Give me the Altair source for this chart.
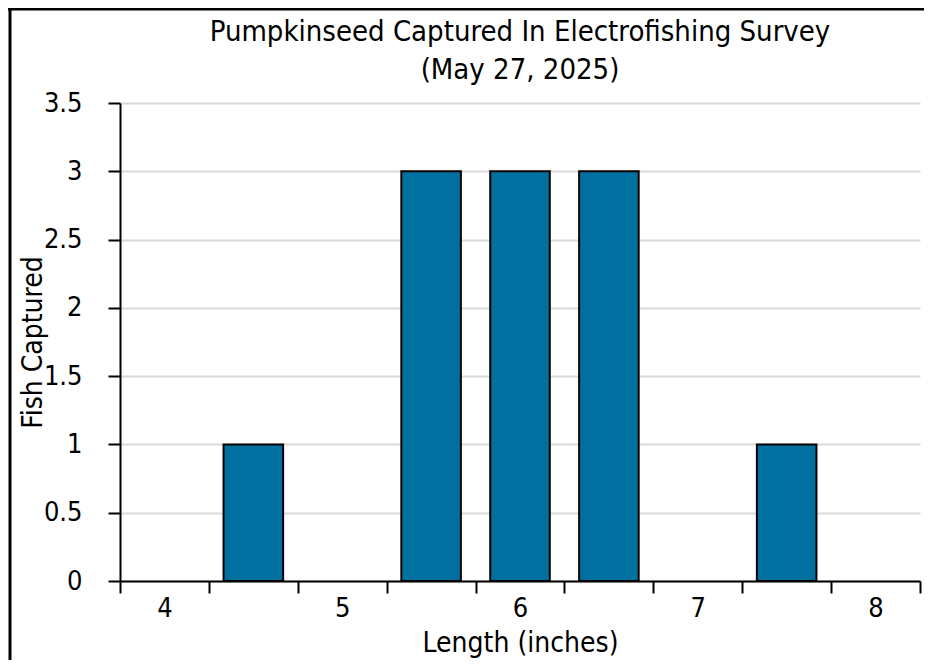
import altair as alt
import pandas as pd

lengths = [4, 4.5, 5, 5.5, 6, 6.5, 7, 7.5, 8]
counts = [0, 1, 0, 3, 3, 3, 0, 1, 0]
y_ticks = [0, 0.5, 1, 1.5, 2, 2.5, 3, 3.5]
title_lines = ["Pumpkinseed Captured In Electrofishing Survey", "(May 27, 2025)"]

FONT = "'Liberation Sans Narrow', 'DejaVu Sans Condensed', 'Open Sans', sans-serif"
W, H = 800, 478

df = pd.DataFrame({"length": lengths, "count": counts})

base = alt.Chart(df)

bars = base.mark_bar(
    color="#0070a0", stroke="black", strokeWidth=2, width=alt.RelativeBandSize(0.67)
).encode(
    x=alt.X(
        "length:O",
        sort=lengths,
        scale=alt.Scale(domain=lengths, paddingInner=0, paddingOuter=0),
        axis=alt.Axis(
            title="Length (inches)",
            labelAngle=0,
            labelExpr="datum.value % 1 === 0 ? datum.label : ''",
            tickBand="extent",
            tickSize=12,
            tickWidth=2,
            tickColor="black",
            domainColor="black",
            domainWidth=2,
            labelPadding=2,
            labelFontSize=27,
            labelColor="black",
            titleFontSize=28,
            titleFontWeight="normal",
            titleColor="black",
            titleY=62,
            titleBaseline="middle",
            grid=False,
        ),
    ),
    y=alt.Y(
        "count:Q",
        scale=alt.Scale(domain=[0, 3.5], nice=False),
        axis=alt.Axis(
            title="Fish Captured",
            values=y_ticks,
            format="~g",
            tickSize=12,
            tickWidth=2,
            tickColor="black",
            domainColor="black",
            domainWidth=2,
            labelPadding=26,
            labelFontSize=27,
            labelColor="black",
            titleFontSize=28,
            titleFontWeight="normal",
            titleColor="black",
            titleX=-87,
            titleY=H / 2,
            titleBaseline="middle",
            titleAngle=-90,
            gridColor="#d9d9d9",
            gridWidth=2,
        ),
    ),
).transform_filter("datum.count > 0")

one = alt.Chart(pd.DataFrame({"k": [0]}))

title1 = one.mark_text(
    fontSize=29, color="black", align="center", baseline="alphabetic", clip=False
).encode(x=alt.value(W / 2), y=alt.value(-62), text=alt.value(title_lines[0]))
title2 = one.mark_text(
    fontSize=29, color="black", align="center", baseline="alphabetic", clip=False
).encode(x=alt.value(W / 2), y=alt.value(-24), text=alt.value(title_lines[1]))

left_border = one.mark_rule(color="black", strokeWidth=3, clip=False).encode(
    x=alt.value(-110), y=alt.value(-94), y2=alt.value(H + 85)
)
top_border = one.mark_rule(color="black", strokeWidth=3, clip=False).encode(
    x=alt.value(-112), x2=alt.value(W + 4), y=alt.value(-94)
)

chart = alt.layer(bars, title1, title2, left_border, top_border).properties(
    width=W,
    height=H,
    autosize=alt.AutoSizeParams(type="none"),
    padding={"left": 112, "top": 95, "right": 4, "bottom": 79},
).configure(
    font=FONT,
).configure_view(
    stroke=None
)

chart.save("out.html", embed_options={"renderer": "svg", "actions": False})
